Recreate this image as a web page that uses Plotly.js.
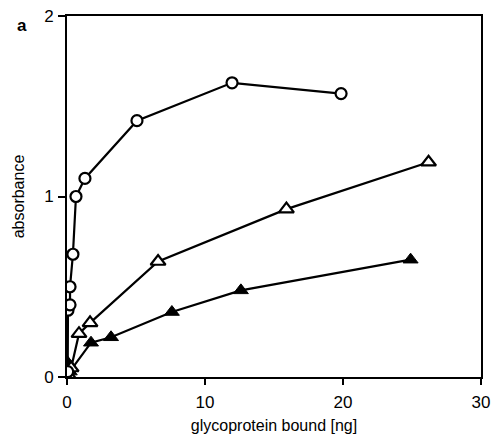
<!DOCTYPE html>
<html>
<head>
<meta charset="utf-8">
<script src="https://cdn.plot.ly/plotly-3.0.1.min.js"></script>
<style>html,body{margin:0;padding:0;background:#fff;}#chart{width:492px;height:438px;}</style>
</head>
<body>
<div id="chart"></div>
<script>
// Open circles
const circleX = [0.05, 0.07, 0.22, 0.22, 0.43, 0.65, 1.3, 5.07, 11.96, 19.86];
const circleY = [0.03, 0.37, 0.40, 0.50, 0.68, 1.00, 1.10, 1.42, 1.63, 1.57];
// Open triangles
const openTriX = [0.2, 0.3, 0.87, 1.67, 6.6, 15.9, 26.2];
const openTriY = [0.00, 0.05, 0.24, 0.30, 0.64, 0.93, 1.19];
// Filled triangles
const fillTriX = [0.0, 0.05, 0.1, 0.2, 1.74, 3.19, 7.6, 12.6, 24.9];
const fillTriY = [0.00, 0.08, 0.05, 0.03, 0.19, 0.22, 0.36, 0.48, 0.65];

const xTicks = [0, 10, 20, 30];
const yTicks = [0, 1, 2];

const font = 'Liberation Sans, Arial, Helvetica, sans-serif';

const traces = [
  {x: fillTriX, y: fillTriY, mode: 'lines+markers', type: 'scatter',
   line: {color: '#000', width: 2.2},
   marker: {symbol: 'triangle-up', size: 13, color: '#000', line: {color: '#000', width: 1}}},
  {x: openTriX, y: openTriY, mode: 'lines+markers', type: 'scatter',
   line: {color: '#000', width: 2.2},
   marker: {symbol: 'triangle-up', size: 13, color: '#fff', line: {color: '#000', width: 2.2}}},
  {x: circleX, y: circleY, mode: 'lines+markers', type: 'scatter',
   line: {color: '#000', width: 2.2},
   marker: {symbol: 'circle', size: 11, color: '#fff', line: {color: '#000', width: 2.2}}}
];

const layout = {
  width: 492, height: 438,
  margin: {l: 67, r: 11, t: 16, b: 61},
  paper_bgcolor: '#fff', plot_bgcolor: '#fff',
  showlegend: false,
  font: {family: font, color: '#000', size: 17},
  xaxis: {
    range: [0, 30], tickvals: xTicks, ticktext: xTicks.map(String),
    showgrid: false, zeroline: false, showline: true, linecolor: '#000', linewidth: 2,
    mirror: true, ticks: 'outside', ticklen: 6, tickwidth: 2, tickcolor: '#000',
    tickfont: {size: 17, family: font}, ticklabelstandoff: 3,
    title: {text: 'glycoprotein bound [ng]', font: {size: 16, family: font}, standoff: 8}
  },
  yaxis: {
    range: [0, 2], tickvals: yTicks, ticktext: yTicks.map(String),
    showgrid: false, zeroline: false, showline: true, linecolor: '#000', linewidth: 2,
    mirror: true, ticks: 'outside', ticklen: 7, tickwidth: 2, tickcolor: '#000',
    tickfont: {size: 17, family: font}, ticklabelstandoff: 1,
    title: {text: 'absorbance', font: {size: 16, family: font}, standoff: 16}
  },
  annotations: [
    {text: '<b>a</b>', xref: 'paper', yref: 'paper', x: -0.108, y: 0.975,
     xanchor: 'center', yanchor: 'middle', showarrow: false, font: {size: 17, family: font}}
  ]
};

Plotly.newPlot('chart', traces, layout, {displayModeBar: false, staticPlot: true});
</script>
</body>
</html>
